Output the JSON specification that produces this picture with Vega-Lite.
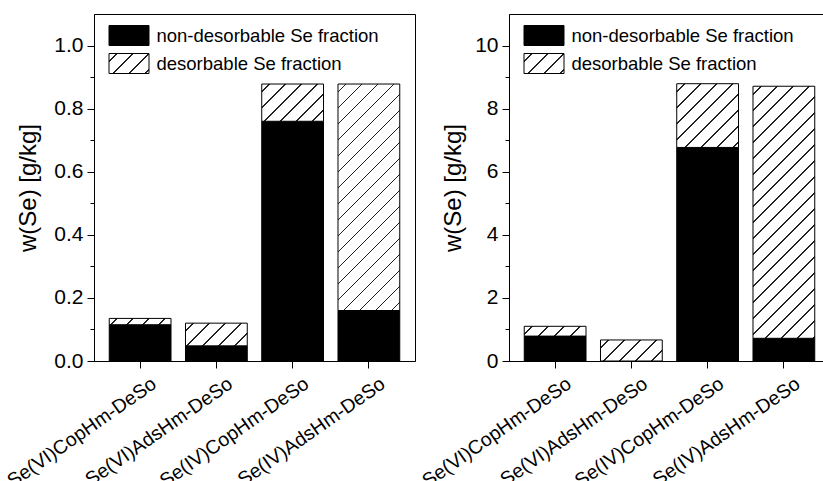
{
 "$schema": "https://vega.github.io/schema/vega-lite/v6.json",
 "background": "white",
 "padding": {"left": 2, "top": 13, "right": 0, "bottom": 0},
 "bounds": "flush",
 "spacing": 94,
 "datasets": {
  "left": [
   {"sample": "Se(VI)CopHm-DeSo", "fraction": "non-desorbable Se fraction", "w": 0.115},
   {"sample": "Se(VI)CopHm-DeSo", "fraction": "desorbable Se fraction", "w": 0.020},
   {"sample": "Se(VI)AdsHm-DeSo", "fraction": "non-desorbable Se fraction", "w": 0.048},
   {"sample": "Se(VI)AdsHm-DeSo", "fraction": "desorbable Se fraction", "w": 0.072},
   {"sample": "Se(IV)CopHm-DeSo", "fraction": "non-desorbable Se fraction", "w": 0.760},
   {"sample": "Se(IV)CopHm-DeSo", "fraction": "desorbable Se fraction", "w": 0.118},
   {"sample": "Se(IV)AdsHm-DeSo", "fraction": "non-desorbable Se fraction", "w": 0.160},
   {"sample": "Se(IV)AdsHm-DeSo", "fraction": "desorbable Se fraction", "w": 0.718}
  ],
  "right": [
   {"sample": "Se(VI)CopHm-DeSo", "fraction": "non-desorbable Se fraction", "w": 0.79},
   {"sample": "Se(VI)CopHm-DeSo", "fraction": "desorbable Se fraction", "w": 0.31},
   {"sample": "Se(VI)AdsHm-DeSo", "fraction": "non-desorbable Se fraction", "w": 0},
   {"sample": "Se(VI)AdsHm-DeSo", "fraction": "desorbable Se fraction", "w": 0.667},
   {"sample": "Se(IV)CopHm-DeSo", "fraction": "non-desorbable Se fraction", "w": 6.77},
   {"sample": "Se(IV)CopHm-DeSo", "fraction": "desorbable Se fraction", "w": 2.02},
   {"sample": "Se(IV)AdsHm-DeSo", "fraction": "non-desorbable Se fraction", "w": 0.72},
   {"sample": "Se(IV)AdsHm-DeSo", "fraction": "desorbable Se fraction", "w": 7.99}
  ]
 },
 "resolve": {"scale": {"fill": "independent"}, "legend": {"fill": "independent"}},
 "config": {
  "font": "Liberation Sans",
  "view": {"stroke": "black", "strokeWidth": 1},
  "axis": {"domainColor": "black", "tickColor": "black", "labelColor": "black", "titleColor": "black", "grid": false, "labelFont": "Liberation Sans", "titleFont": "Liberation Sans", "labelFontSize": 21, "titleFontSize": 24, "titleFontWeight": "normal", "domainWidth": 1, "tickWidth": 1},
  "legend": {"title": null, "orient": "none", "legendX": 24.5, "legendY": 11, "symbolType": "M-2,-1H2V1H-2Z", "symbolSize": 400, "symbolStrokeColor": "black", "symbolStrokeWidth": 1, "labelFont": "Liberation Sans", "labelFontSize": 18.5, "labelColor": "black", "labelOffset": 17, "rowPadding": 3, "padding": 0, "labelLimit": 0}
 },
 "hconcat": [
  {
   "width": 321, "height": 347,
   "data": {"name": "left"},
   "mark": {"type": "bar", "stroke": "black", "strokeWidth": 1},
   "encoding": {
    "x": {"field": "sample", "type": "nominal", "sort": null, "scale": {"paddingInner": 0.19, "paddingOuter": 0.2}, "axis": {"title": null, "labelAngle": -35, "labelFontSize": 19.5, "tickSize": 7, "labelPadding": 6, "labelOffset": 9}},
    "y": {"field": "w", "type": "quantitative", "stack": "zero", "scale": {"domain": [0, 1.1], "nice": false}, "axis": {"title": "w(Se) [g/kg]", "values": [0, 0.1, 0.2, 0.3, 0.4, 0.5, 0.6, 0.7, 0.8, 0.9, 1.0], "labelExpr": "abs(datum.value*5 - round(datum.value*5)) < 0.001 ? format(datum.value, '.1f') : ''", "tickSize": {"condition": {"test": "abs(datum.value*5 - round(datum.value*5)) < 0.001", "value": 7}, "value": 4}, "labelPadding": 4, "titlePadding": 13}},
    "order": {"field": "fraction", "sort": "descending"},
    "fill": {
     "field": "fraction", "type": "nominal",
     "scale": {"domain": ["non-desorbable Se fraction", "desorbable Se fraction"], "range": ["black", {"expr": "{gradient: 'linear', x1: 0, y1: 0, x2: 1.2, y2: 0.6, stops: [{offset: 0, color: '#fff'}, {offset: 0.12, color: '#fff'}, {offset: 0.12, color: '#222'}, {offset: 0.1467, color: '#222'}, {offset: 0.1467, color: '#fff'}, {offset: 0.3867, color: '#fff'}, {offset: 0.3867, color: '#222'}, {offset: 0.4133, color: '#222'}, {offset: 0.4133, color: '#fff'}, {offset: 0.6533, color: '#fff'}, {offset: 0.6533, color: '#222'}, {offset: 0.68, color: '#222'}, {offset: 0.68, color: '#fff'}, {offset: 0.92, color: '#fff'}, {offset: 0.92, color: '#222'}, {offset: 0.9467, color: '#222'}, {offset: 0.9467, color: '#fff'}, {offset: 1, color: '#fff'}]}"}]},
     "legend": {"encode": {"symbols": {"update": {"stroke": {"value": "black"}, "strokeWidth": {"value": 1}}}}},
     "condition": [
      {"test": "datum.sample === 'Se(VI)CopHm-DeSo' && datum.fraction === 'desorbable Se fraction'", "value": {"gradient": "linear", "x1": 0, "y1": 0, "x2": 1.0908, "y2": 0.1114, "stops": [{"offset": 0, "color": "#fff"},
        {"offset": 0.1058, "color": "#fff"}, {"offset": 0.1058, "color": "#222"}, {"offset": 0.1293, "color": "#222"}, {"offset": 0.1293, "color": "#fff"},
        {"offset": 0.3408, "color": "#fff"}, {"offset": 0.3408, "color": "#222"}, {"offset": 0.3643, "color": "#222"}, {"offset": 0.3643, "color": "#fff"},
        {"offset": 0.5759, "color": "#fff"}, {"offset": 0.5759, "color": "#222"}, {"offset": 0.5994, "color": "#222"}, {"offset": 0.5994, "color": "#fff"},
        {"offset": 0.8109, "color": "#fff"}, {"offset": 0.8109, "color": "#222"}, {"offset": 0.8344, "color": "#222"}, {"offset": 0.8344, "color": "#fff"},
        {"offset": 1, "color": "#fff"}]}},
      {"test": "datum.sample === 'Se(VI)AdsHm-DeSo' && datum.fraction === 'desorbable Se fraction'", "value": {"gradient": "linear", "x1": 0, "y1": 0, "x2": 1.2048, "y2": 0.4430, "stops": [{"offset": 0, "color": "#fff"},
        {"offset": 0.0852, "color": "#fff"}, {"offset": 0.0852, "color": "#222"}, {"offset": 0.1042, "color": "#222"}, {"offset": 0.1042, "color": "#fff"},
        {"offset": 0.2747, "color": "#fff"}, {"offset": 0.2747, "color": "#222"}, {"offset": 0.2936, "color": "#222"}, {"offset": 0.2936, "color": "#fff"},
        {"offset": 0.4641, "color": "#fff"}, {"offset": 0.4641, "color": "#222"}, {"offset": 0.4830, "color": "#222"}, {"offset": 0.4830, "color": "#fff"},
        {"offset": 0.6535, "color": "#fff"}, {"offset": 0.6535, "color": "#222"}, {"offset": 0.6724, "color": "#222"}, {"offset": 0.6724, "color": "#fff"},
        {"offset": 0.8429, "color": "#fff"}, {"offset": 0.8429, "color": "#222"}, {"offset": 0.8618, "color": "#222"}, {"offset": 0.8618, "color": "#fff"},
        {"offset": 1, "color": "#fff"}]}},
      {"test": "datum.sample === 'Se(IV)CopHm-DeSo' && datum.fraction === 'desorbable Se fraction'", "value": {"gradient": "linear", "x1": 0, "y1": 0, "x2": 1.1757, "y2": 0.7085, "stops": [{"offset": 0, "color": "#fff"},
        {"offset": 0.0727, "color": "#fff"}, {"offset": 0.0727, "color": "#222"}, {"offset": 0.0889, "color": "#222"}, {"offset": 0.0889, "color": "#fff"},
        {"offset": 0.2344, "color": "#fff"}, {"offset": 0.2344, "color": "#222"}, {"offset": 0.2506, "color": "#222"}, {"offset": 0.2506, "color": "#fff"},
        {"offset": 0.3960, "color": "#fff"}, {"offset": 0.3960, "color": "#222"}, {"offset": 0.4122, "color": "#222"}, {"offset": 0.4122, "color": "#fff"},
        {"offset": 0.5577, "color": "#fff"}, {"offset": 0.5577, "color": "#222"}, {"offset": 0.5739, "color": "#222"}, {"offset": 0.5739, "color": "#fff"},
        {"offset": 0.7193, "color": "#fff"}, {"offset": 0.7193, "color": "#222"}, {"offset": 0.7355, "color": "#222"}, {"offset": 0.7355, "color": "#fff"},
        {"offset": 0.8810, "color": "#fff"}, {"offset": 0.8810, "color": "#222"}, {"offset": 0.8972, "color": "#222"}, {"offset": 0.8972, "color": "#fff"},
        {"offset": 1, "color": "#fff"}]}},
      {"test": "datum.sample === 'Se(IV)AdsHm-DeSo' && datum.fraction === 'desorbable Se fraction'", "value": {"gradient": "linear", "x1": 0, "y1": 0, "x2": 0.3230, "y2": 1.1846, "stops": [{"offset": 0, "color": "#fff"},
        {"offset": 0.02498, "color": "#fff"}, {"offset": 0.02498, "color": "#222"}, {"offset": 0.03053, "color": "#222"}, {"offset": 0.03053, "color": "#fff"},
        {"offset": 0.08049, "color": "#fff"}, {"offset": 0.08049, "color": "#222"}, {"offset": 0.08604, "color": "#222"}, {"offset": 0.08604, "color": "#fff"},
        {"offset": 0.13599, "color": "#fff"}, {"offset": 0.13599, "color": "#222"}, {"offset": 0.14154, "color": "#222"}, {"offset": 0.14154, "color": "#fff"},
        {"offset": 0.19150, "color": "#fff"}, {"offset": 0.19150, "color": "#222"}, {"offset": 0.19705, "color": "#222"}, {"offset": 0.19705, "color": "#fff"},
        {"offset": 0.24701, "color": "#fff"}, {"offset": 0.24701, "color": "#222"}, {"offset": 0.25256, "color": "#222"}, {"offset": 0.25256, "color": "#fff"},
        {"offset": 0.30251, "color": "#fff"}, {"offset": 0.30251, "color": "#222"}, {"offset": 0.30806, "color": "#222"}, {"offset": 0.30806, "color": "#fff"},
        {"offset": 0.35802, "color": "#fff"}, {"offset": 0.35802, "color": "#222"}, {"offset": 0.36357, "color": "#222"}, {"offset": 0.36357, "color": "#fff"},
        {"offset": 0.41353, "color": "#fff"}, {"offset": 0.41353, "color": "#222"}, {"offset": 0.41908, "color": "#222"}, {"offset": 0.41908, "color": "#fff"},
        {"offset": 0.46903, "color": "#fff"}, {"offset": 0.46903, "color": "#222"}, {"offset": 0.47459, "color": "#222"}, {"offset": 0.47459, "color": "#fff"},
        {"offset": 0.52454, "color": "#fff"}, {"offset": 0.52454, "color": "#222"}, {"offset": 0.53010, "color": "#222"}, {"offset": 0.53010, "color": "#fff"},
        {"offset": 0.58005, "color": "#fff"}, {"offset": 0.58005, "color": "#222"}, {"offset": 0.58560, "color": "#222"}, {"offset": 0.58560, "color": "#fff"},
        {"offset": 0.63556, "color": "#fff"}, {"offset": 0.63556, "color": "#222"}, {"offset": 0.64111, "color": "#222"}, {"offset": 0.64111, "color": "#fff"},
        {"offset": 0.69106, "color": "#fff"}, {"offset": 0.69106, "color": "#222"}, {"offset": 0.69662, "color": "#222"}, {"offset": 0.69662, "color": "#fff"},
        {"offset": 0.74657, "color": "#fff"}, {"offset": 0.74657, "color": "#222"}, {"offset": 0.75212, "color": "#222"}, {"offset": 0.75212, "color": "#fff"},
        {"offset": 0.80208, "color": "#fff"}, {"offset": 0.80208, "color": "#222"}, {"offset": 0.80763, "color": "#222"}, {"offset": 0.80763, "color": "#fff"},
        {"offset": 0.85759, "color": "#fff"}, {"offset": 0.85759, "color": "#222"}, {"offset": 0.86314, "color": "#222"}, {"offset": 0.86314, "color": "#fff"},
        {"offset": 0.91310, "color": "#fff"}, {"offset": 0.91310, "color": "#222"}, {"offset": 0.91865, "color": "#222"}, {"offset": 0.91865, "color": "#fff"},
        {"offset": 0.96860, "color": "#fff"}, {"offset": 0.96860, "color": "#222"}, {"offset": 0.97415, "color": "#222"}, {"offset": 0.97415, "color": "#fff"},
        {"offset": 1, "color": "#fff"}]}}
     ]
    }
   }
  },
  {
   "width": 321, "height": 347,
   "data": {"name": "right"},
   "mark": {"type": "bar", "stroke": "black", "strokeWidth": 1},
   "encoding": {
    "x": {"field": "sample", "type": "nominal", "sort": null, "scale": {"paddingInner": 0.19, "paddingOuter": 0.2}, "axis": {"title": null, "labelAngle": -35, "labelFontSize": 19.5, "tickSize": 7, "labelPadding": 6, "labelOffset": 9}},
    "y": {"field": "w", "type": "quantitative", "stack": "zero", "scale": {"domain": [0, 11], "nice": false}, "axis": {"title": "w(Se) [g/kg]", "values": [0, 1, 2, 3, 4, 5, 6, 7, 8, 9, 10], "labelExpr": "datum.value % 2 === 0 ? format(datum.value, 'd') : ''", "tickSize": {"condition": {"test": "datum.value % 2 === 0", "value": 7}, "value": 4}, "labelPadding": 4, "titlePadding": 9}},
    "order": {"field": "fraction", "sort": "descending"},
    "fill": {
     "field": "fraction", "type": "nominal",
     "scale": {"domain": ["non-desorbable Se fraction", "desorbable Se fraction"], "range": ["black", {"expr": "{gradient: 'linear', x1: 0, y1: 0, x2: 1.2, y2: 0.6, stops: [{offset: 0, color: '#fff'}, {offset: 0.12, color: '#fff'}, {offset: 0.12, color: '#222'}, {offset: 0.1467, color: '#222'}, {offset: 0.1467, color: '#fff'}, {offset: 0.3867, color: '#fff'}, {offset: 0.3867, color: '#222'}, {offset: 0.4133, color: '#222'}, {offset: 0.4133, color: '#fff'}, {offset: 0.6533, color: '#fff'}, {offset: 0.6533, color: '#222'}, {offset: 0.68, color: '#222'}, {offset: 0.68, color: '#fff'}, {offset: 0.92, color: '#fff'}, {offset: 0.92, color: '#222'}, {offset: 0.9467, color: '#222'}, {offset: 0.9467, color: '#fff'}, {offset: 1, color: '#fff'}]}"}]},
     "legend": {"encode": {"symbols": {"update": {"stroke": {"value": "black"}, "strokeWidth": {"value": 1}}}}},
     "condition": [
      {"test": "datum.sample === 'Se(VI)CopHm-DeSo' && datum.fraction === 'desorbable Se fraction'", "value": {"gradient": "linear", "x1": 0, "y1": 0, "x2": 1.1300, "y2": 0.1789, "stops": [{"offset": 0, "color": "#fff"},
        {"offset": 0.1006, "color": "#fff"}, {"offset": 0.1006, "color": "#222"}, {"offset": 0.1230, "color": "#222"}, {"offset": 0.1230, "color": "#fff"},
        {"offset": 0.3243, "color": "#fff"}, {"offset": 0.3243, "color": "#222"}, {"offset": 0.3467, "color": "#222"}, {"offset": 0.3467, "color": "#fff"},
        {"offset": 0.5479, "color": "#fff"}, {"offset": 0.5479, "color": "#222"}, {"offset": 0.5703, "color": "#222"}, {"offset": 0.5703, "color": "#fff"},
        {"offset": 0.7716, "color": "#fff"}, {"offset": 0.7716, "color": "#222"}, {"offset": 0.7940, "color": "#222"}, {"offset": 0.7940, "color": "#fff"},
        {"offset": 1, "color": "#fff"}]}},
      {"test": "datum.sample === 'Se(VI)AdsHm-DeSo' && datum.fraction === 'desorbable Se fraction'", "value": {"gradient": "linear", "x1": 0, "y1": 0, "x2": 1.2013, "y2": 0.4092, "stops": [{"offset": 0, "color": "#fff"},
        {"offset": 0.0870, "color": "#fff"}, {"offset": 0.0870, "color": "#222"}, {"offset": 0.1063, "color": "#222"}, {"offset": 0.1063, "color": "#fff"},
        {"offset": 0.2802, "color": "#fff"}, {"offset": 0.2802, "color": "#222"}, {"offset": 0.2995, "color": "#222"}, {"offset": 0.2995, "color": "#fff"},
        {"offset": 0.4734, "color": "#fff"}, {"offset": 0.4734, "color": "#222"}, {"offset": 0.4928, "color": "#222"}, {"offset": 0.4928, "color": "#fff"},
        {"offset": 0.6667, "color": "#fff"}, {"offset": 0.6667, "color": "#222"}, {"offset": 0.6860, "color": "#222"}, {"offset": 0.6860, "color": "#fff"},
        {"offset": 0.8599, "color": "#fff"}, {"offset": 0.8599, "color": "#222"}, {"offset": 0.8792, "color": "#222"}, {"offset": 0.8792, "color": "#fff"},
        {"offset": 1, "color": "#fff"}]}},
      {"test": "datum.sample === 'Se(IV)CopHm-DeSo' && datum.fraction === 'desorbable Se fraction'", "value": {"gradient": "linear", "x1": 0, "y1": 0, "x2": 0.9841, "y2": 1.0154, "stops": [{"offset": 0, "color": "#fff"},
        {"offset": 0.0574, "color": "#fff"}, {"offset": 0.0574, "color": "#222"}, {"offset": 0.0701, "color": "#222"}, {"offset": 0.0701, "color": "#fff"},
        {"offset": 0.1849, "color": "#fff"}, {"offset": 0.1849, "color": "#222"}, {"offset": 0.1976, "color": "#222"}, {"offset": 0.1976, "color": "#fff"},
        {"offset": 0.3124, "color": "#fff"}, {"offset": 0.3124, "color": "#222"}, {"offset": 0.3252, "color": "#222"}, {"offset": 0.3252, "color": "#fff"},
        {"offset": 0.4399, "color": "#fff"}, {"offset": 0.4399, "color": "#222"}, {"offset": 0.4527, "color": "#222"}, {"offset": 0.4527, "color": "#fff"},
        {"offset": 0.5674, "color": "#fff"}, {"offset": 0.5674, "color": "#222"}, {"offset": 0.5802, "color": "#222"}, {"offset": 0.5802, "color": "#fff"},
        {"offset": 0.6949, "color": "#fff"}, {"offset": 0.6949, "color": "#222"}, {"offset": 0.7077, "color": "#222"}, {"offset": 0.7077, "color": "#fff"},
        {"offset": 0.8224, "color": "#fff"}, {"offset": 0.8224, "color": "#222"}, {"offset": 0.8352, "color": "#222"}, {"offset": 0.8352, "color": "#fff"},
        {"offset": 0.9500, "color": "#fff"}, {"offset": 0.9500, "color": "#222"}, {"offset": 0.9627, "color": "#222"}, {"offset": 0.9627, "color": "#fff"},
        {"offset": 1, "color": "#fff"}]}},
      {"test": "datum.sample === 'Se(IV)AdsHm-DeSo' && datum.fraction === 'desorbable Se fraction'", "value": {"gradient": "linear", "x1": 0, "y1": 0, "x2": 0.2878, "y2": 1.1745, "stops": [{"offset": 0, "color": "#fff"},
        {"offset": 0.02294, "color": "#fff"}, {"offset": 0.02294, "color": "#222"}, {"offset": 0.02804, "color": "#222"}, {"offset": 0.02804, "color": "#fff"},
        {"offset": 0.07393, "color": "#fff"}, {"offset": 0.07393, "color": "#222"}, {"offset": 0.07903, "color": "#222"}, {"offset": 0.07903, "color": "#fff"},
        {"offset": 0.12491, "color": "#fff"}, {"offset": 0.12491, "color": "#222"}, {"offset": 0.13001, "color": "#222"}, {"offset": 0.13001, "color": "#fff"},
        {"offset": 0.17590, "color": "#fff"}, {"offset": 0.17590, "color": "#222"}, {"offset": 0.18100, "color": "#222"}, {"offset": 0.18100, "color": "#fff"},
        {"offset": 0.22689, "color": "#fff"}, {"offset": 0.22689, "color": "#222"}, {"offset": 0.23198, "color": "#222"}, {"offset": 0.23198, "color": "#fff"},
        {"offset": 0.27787, "color": "#fff"}, {"offset": 0.27787, "color": "#222"}, {"offset": 0.28297, "color": "#222"}, {"offset": 0.28297, "color": "#fff"},
        {"offset": 0.32886, "color": "#fff"}, {"offset": 0.32886, "color": "#222"}, {"offset": 0.33396, "color": "#222"}, {"offset": 0.33396, "color": "#fff"},
        {"offset": 0.37984, "color": "#fff"}, {"offset": 0.37984, "color": "#222"}, {"offset": 0.38494, "color": "#222"}, {"offset": 0.38494, "color": "#fff"},
        {"offset": 0.43083, "color": "#fff"}, {"offset": 0.43083, "color": "#222"}, {"offset": 0.43593, "color": "#222"}, {"offset": 0.43593, "color": "#fff"},
        {"offset": 0.48181, "color": "#fff"}, {"offset": 0.48181, "color": "#222"}, {"offset": 0.48691, "color": "#222"}, {"offset": 0.48691, "color": "#fff"},
        {"offset": 0.53280, "color": "#fff"}, {"offset": 0.53280, "color": "#222"}, {"offset": 0.53790, "color": "#222"}, {"offset": 0.53790, "color": "#fff"},
        {"offset": 0.58379, "color": "#fff"}, {"offset": 0.58379, "color": "#222"}, {"offset": 0.58888, "color": "#222"}, {"offset": 0.58888, "color": "#fff"},
        {"offset": 0.63477, "color": "#fff"}, {"offset": 0.63477, "color": "#222"}, {"offset": 0.63987, "color": "#222"}, {"offset": 0.63987, "color": "#fff"},
        {"offset": 0.68576, "color": "#fff"}, {"offset": 0.68576, "color": "#222"}, {"offset": 0.69085, "color": "#222"}, {"offset": 0.69085, "color": "#fff"},
        {"offset": 0.73674, "color": "#fff"}, {"offset": 0.73674, "color": "#222"}, {"offset": 0.74184, "color": "#222"}, {"offset": 0.74184, "color": "#fff"},
        {"offset": 0.78773, "color": "#fff"}, {"offset": 0.78773, "color": "#222"}, {"offset": 0.79283, "color": "#222"}, {"offset": 0.79283, "color": "#fff"},
        {"offset": 0.83871, "color": "#fff"}, {"offset": 0.83871, "color": "#222"}, {"offset": 0.84381, "color": "#222"}, {"offset": 0.84381, "color": "#fff"},
        {"offset": 0.88970, "color": "#fff"}, {"offset": 0.88970, "color": "#222"}, {"offset": 0.89480, "color": "#222"}, {"offset": 0.89480, "color": "#fff"},
        {"offset": 0.94068, "color": "#fff"}, {"offset": 0.94068, "color": "#222"}, {"offset": 0.94578, "color": "#222"}, {"offset": 0.94578, "color": "#fff"},
        {"offset": 0.99168, "color": "#fff"}, {"offset": 0.99168, "color": "#222"}, {"offset": 0.99677, "color": "#222"}, {"offset": 0.99677, "color": "#fff"},
        {"offset": 1, "color": "#fff"}]}}
     ]
    }
   }
  }
 ]
}
